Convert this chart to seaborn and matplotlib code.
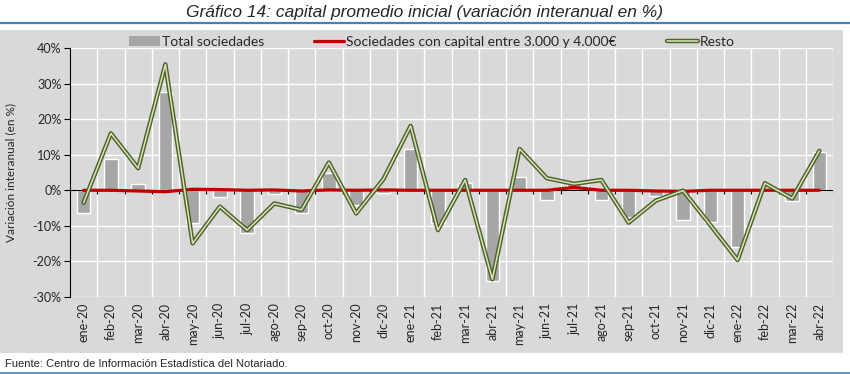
import numpy as np
import pandas as pd
import matplotlib
matplotlib.use("Agg")
import matplotlib.pyplot as plt
from matplotlib.lines import Line2D
from matplotlib.patches import Patch, Rectangle
import seaborn as sns

months = ["ene-20", "feb-20", "mar-20", "abr-20", "may-20", "jun-20", "jul-20",
          "ago-20", "sep-20", "oct-20", "nov-20", "dic-20", "ene-21", "feb-21",
          "mar-21", "abr-21", "may-21", "jun-21", "jul-21", "ago-21", "sep-21",
          "oct-21", "nov-21", "dic-21", "ene-22", "feb-22", "mar-22", "abr-22"]
total = [-6.5, 8.8, 1.8, 27.7, -9.1, -1.8, -12.1, -1.1, -6.5, 5.0, -4.1, -0.8,
         11.6, -9.1, 2.0, -25.4, 3.6, -2.7, 2.4, -2.7, -7.4, -1.6, -8.3, -8.8,
         -16.0, 0.3, -2.9, 10.7]
capital_3000_4000 = [0.0, 0.0, -0.2, -0.4, 0.3, 0.2, 0.0, 0.1, -0.2, 0.1, 0.0, 0.1,
                     0.0, 0.0, 0.0, 0.0, 0.0, 0.0, 0.8, 0.0, 0.0, -0.2, -0.3, 0.0,
                     0.0, 0.0, 0.0, 0.0]
resto = [-3.5, 16.0, 6.2, 35.4, -14.9, -4.6, -11.2, -3.7, -5.5, 7.8, -6.5, 3.1,
         18.1, -11.2, 2.9, -25.0, 11.6, 3.4, 1.8, 2.9, -9.1, -2.9, -0.1, -9.8,
         -19.6, 2.0, -2.3, 11.1]
yticks = [-30, -20, -10, 0, 10, 20, 30, 40]

df = pd.DataFrame({"mes": months, "pos": np.arange(len(months)), "total": total,
                   "cap": capital_3000_4000, "resto": resto})

sns.set_theme(style="white")
plt.rcParams["font.family"] = ["Lato", "DejaVu Sans"]

W, H = 850, 374
fig = plt.figure(figsize=(W / 100, H / 100), dpi=100)
fig.patch.set_facecolor("white")

# chart area background and decorative lines
fig.add_artist(Rectangle((0, 1 - 353 / H), 843 / W, (353 - 30) / H, transform=fig.transFigure,
                         facecolor="#d9d9d9", edgecolor="none", zorder=0))
fig.add_artist(Line2D([0, 1], [1 - 23 / H, 1 - 23 / H], transform=fig.transFigure,
                      color="#4a7ebb", lw=1.6))
fig.add_artist(Line2D([0, 1], [1 - 373 / H, 1 - 373 / H], transform=fig.transFigure,
                      color="#4a7ebb", lw=1.2))

ax = fig.add_axes([70 / W, 1 - 297 / H, (833 - 70) / W, (297 - 48) / H])
ax.set_facecolor("#d9d9d9")

sns.barplot(data=df, x="pos", y="total", color="#a6a6a6", width=0.5, saturation=1,
            ax=ax, zorder=2)
sns.lineplot(data=df, x="pos", y="cap", color="#c00000", lw=2.3, ax=ax, zorder=3)
sns.lineplot(data=df, x="pos", y="resto", color="#4f6228", lw=3.2, ax=ax, zorder=4)
sns.lineplot(data=df, x="pos", y="resto", color="#d7e4bd", lw=1.1, ax=ax, zorder=5)

n = len(months)
ax.set_xlim(-0.5, n - 0.5)
ax.set_ylim(-30, 40)
ax.set_yticks(yticks)
ax.set_yticklabels([f"{v}%" for v in yticks], fontsize=9)
ax.set_xticks(np.arange(n))
ax.set_xticklabels(months, rotation=90, fontsize=9)
ax.set_xticks(np.arange(n + 1) - 0.5, minor=True)
ax.tick_params(axis="x", which="both", length=0, pad=4)
ax.tick_params(axis="y", which="major", length=4, width=0.8, color="black", left=True, pad=2)
ax.grid(axis="y", which="major", color="white", lw=1.0, zorder=0)
ax.grid(axis="x", which="minor", color="white", lw=1.0, zorder=0)
ax.grid(axis="x", which="major", visible=False)
ax.set_axisbelow(True)
for s in ["top", "right", "bottom"]:
    ax.spines[s].set_visible(False)
ax.spines["left"].set_color("black")
ax.spines["left"].set_linewidth(0.8)

# category axis at zero with tick marks between categories
ax.axhline(0, color="black", lw=0.8, zorder=2.5)
ax.vlines(np.arange(n + 1) - 0.5, -1.1, 0, color="black", lw=0.8, zorder=2.5)

ax.set_xlabel("")
ax.set_ylabel("Variación interanual (en %)", fontsize=8.5, labelpad=12)

handles = [Patch(facecolor="#a6a6a6", edgecolor="none"),
           Line2D([], [], color="#c00000", lw=2.3),
           (Line2D([], [], color="#4f6228", lw=3.2), Line2D([], [], color="#d7e4bd", lw=1.1))]
labels = ["Total sociedades", "Sociedades con capital entre 3.000 y 4.000€", "Resto"]
fig.legend(handles, labels, loc="center", bbox_to_anchor=(0.508, 1 - 42 / H), ncol=3,
           frameon=False, fontsize=10, handlelength=2.2, handletextpad=0.15,
           columnspacing=3.6, borderpad=0)

fig.text(0.5, 1 - 12 / H, "Gráfico 14: capital promedio inicial (variación interanual en %)",
         ha="center", va="center", fontsize=12.5, style="italic",
         family=["Liberation Sans", "DejaVu Sans"])
fig.text(5 / W, 1 - 364 / H, "Fuente: Centro de Información Estadística del Notariado.",
         ha="left", va="center", fontsize=8.0,
         family=["Liberation Sans Narrow", "Liberation Sans", "DejaVu Sans"])

fig.savefig("out.png", dpi=100)
